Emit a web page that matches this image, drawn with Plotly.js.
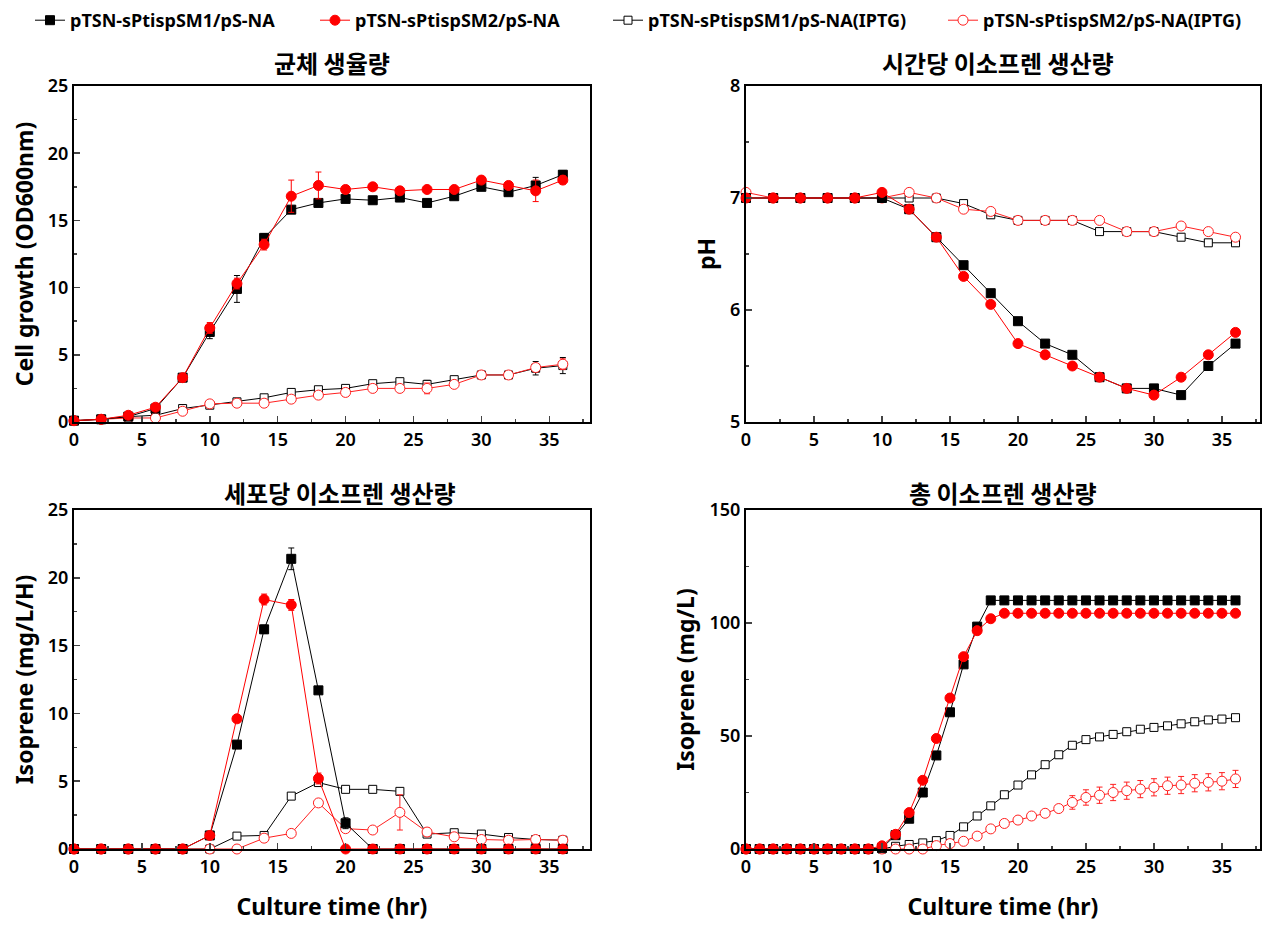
<!DOCTYPE html>
<html>
<head>
<meta charset="utf-8">
<script src="https://cdn.plot.ly/plotly-3.0.1.min.js"></script>
<style>html,body{margin:0;padding:0;background:#fff;}#chart{width:1274px;height:929px;}</style>
</head>
<body>
<div id="chart"></div>
<script>
// ---- data ----
const seriesNames = ["pTSN-sPtispSM1/pS-NA", "pTSN-sPtispSM2/pS-NA", "pTSN-sPtispSM1/pS-NA(IPTG)", "pTSN-sPtispSM2/pS-NA(IPTG)"];
const panelTitles = ["균체 생율량", "시간당 이소프렌 생산량", "세포당 이소프렌 생산량", "총 이소프렌 생산량"];
const timeEvery2h = [0,2,4,6,8,10,12,14,16,18,20,22,24,26,28,30,32,34,36];
const timeEvery1h = [0,1,2,3,4,5,6,7,8,9,10,11,12,13,14,15,16,17,18,19,20,21,22,23,24,25,26,27,28,29,30,31,32,33,34,35,36];

// Cell growth (OD600nm)
const growthSM1   = [0.1,0.2,0.4,1.0,3.3,6.7,9.9,13.7,15.8,16.3,16.6,16.5,16.7,16.3,16.8,17.5,17.1,17.6,18.4];
const growthSM1E  = [0,0.1,0.1,0.1,0.2,0.5,1.0,0.3,0.2,0.2,0.2,0.2,0.2,0.2,0.2,0.2,0.2,0.6,0.3];
const growthSM2   = [0.1,0.2,0.5,1.1,3.3,7.0,10.3,13.2,16.8,17.6,17.3,17.5,17.2,17.3,17.3,18.0,17.6,17.2,18.0];
const growthSM2E  = [0,0.1,0.1,0.1,0.2,0.4,0.4,0.4,1.2,1.0,0.2,0.2,0.2,0.2,0.2,0.2,0.2,0.8,0.3];
const growthSM1I  = [0.1,0.2,0.4,0.5,1.0,1.25,1.5,1.8,2.2,2.4,2.5,2.85,3.0,2.8,3.15,3.5,3.5,4.0,4.2];
const growthSM1IE = [0,0.1,0.1,0.1,0.2,0.2,0.2,0.2,0.2,0.2,0.2,0.2,0.2,0.3,0.2,0.2,0.2,0.5,0.6];
const growthSM2I  = [0.1,0.2,0.3,0.3,0.8,1.35,1.4,1.4,1.7,2.0,2.2,2.5,2.5,2.5,2.8,3.5,3.5,4.05,4.3];
const growthSM2IE = [0,0.1,0.1,0.1,0.1,0.2,0.2,0.2,0.2,0.2,0.3,0.2,0.2,0.4,0.2,0.2,0.2,0.3,0.4];

// pH
const phSM1   = [7.0,7.0,7.0,7.0,7.0,7.0,6.9,6.65,6.4,6.15,5.9,5.7,5.6,5.4,5.3,5.3,5.24,5.5,5.7];
const phSM2   = [7.0,7.0,7.0,7.0,7.0,7.05,6.9,6.65,6.3,6.05,5.7,5.6,5.5,5.4,5.3,5.24,5.4,5.6,5.8];
const phSM1I  = [7.0,7.0,7.0,7.0,7.0,7.0,7.0,7.0,6.95,6.85,6.8,6.8,6.8,6.7,6.7,6.7,6.65,6.6,6.6];
const phSM2I  = [7.05,7.0,7.0,7.0,7.0,7.0,7.05,7.0,6.9,6.88,6.8,6.8,6.8,6.8,6.7,6.7,6.75,6.7,6.65];
const phErr   = [0.03,0.01,0.01,0.01,0.01,0.03,0.03,0.03,0.03,0.03,0.02,0.02,0.02,0.02,0.02,0.02,0.03,0.02,0.03];

// Isoprene per cell (mg/L/H)
const rateSM1   = [0,0,0,0,0,1.0,7.7,16.2,21.4,11.7,1.9,0,0,0,0,0,0,0,0];
const rateSM1E  = [0,0,0,0,0,0.2,0.2,0.3,0.8,0.2,0.4,0,0,0,0,0,0,0,0];
const rateSM2   = [0,0,0,0,0,1.0,9.6,18.4,18.0,5.2,0,0,0,0,0,0,0,0,0];
const rateSM2E  = [0,0,0,0,0,0.2,0.2,0.4,0.4,0.4,0,0,0,0,0,0,0,0,0];
const rateSM1I  = [0,0,0,0,0,0,0.95,1.0,3.9,4.9,4.4,4.4,4.25,1.1,1.2,1.1,0.85,0.7,0.65];
const rateSM1IE = [0,0,0,0,0,0,0.2,0.2,0.2,0.2,0.2,0.2,0.2,0.2,0.2,0.2,0.2,0.2,0.2];
const rateSM2I  = [0,0,0,0,0,0,0,0.8,1.15,3.4,1.5,1.4,2.7,1.25,0.9,0.7,0.65,0.7,0.65];
const rateSM2IE = [0,0,0,0,0,0,0,0.2,0.1,0.2,0.2,0.1,1.3,0.3,0.2,0.2,0.2,0.2,0.2];

// Total isoprene (mg/L)
const totalSM1  = [0,0,0,0,0,0,0,0,0,0,0.5,6.1,13.4,25.0,41.4,60.5,81.7,98.4,110,110,110,110,110,110,110,110,110,110,110,110,110,110,110,110,110,110,110];
const totalSM2  = [0,0,0,0,0,0,0,0,0,0,1.4,6.5,16.1,30.4,48.9,66.8,85.1,96.6,101.9,104.3,104.3,104.3,104.3,104.3,104.3,104.3,104.3,104.3,104.3,104.3,104.3,104.3,104.3,104.3,104.3,104.3,104.3];
const totalSM1I = [0,0,0,0,0,0,0,0,0,0,0,1.2,2.0,2.7,3.7,6.0,9.8,14.6,19.1,24.0,28.3,32.8,37.3,41.7,45.9,48.4,49.6,50.7,51.9,53.0,53.8,54.5,55.4,56.3,57.1,57.5,58.1];
const totalSM1IE= [0,0,0,0,0,0,0,0,0,0,0,0.3,0.3,0.3,0.4,0.4,0.5,0.6,0.6,0.6,0.6,0.6,0.6,0.6,0.6,0.7,0.7,0.7,0.7,0.8,0.8,0.8,0.8,0.8,0.9,0.9,1.0];
const totalSM2I = [0,0,0,0,0,0,0,0,0,0,0,0,0,0,1.5,2.4,3.4,5.7,8.9,11.3,12.8,14.6,15.8,17.9,20.6,22.8,23.8,25.0,25.8,26.5,27.3,28.0,28.3,29.1,29.5,30.0,31.0];
const totalSM2IE= [0,0,0,0,0,0,0,0,0,0,0,0,0,0,0.3,0.4,0.5,0.6,0.8,0.9,1.0,1.2,1.4,1.6,3.0,3.4,3.6,3.6,3.8,3.8,3.8,3.8,3.8,3.8,3.8,3.8,3.8];

// ---- styles ----
const styles = [
  {color:'#000000', symbol:'square', fill:'#000000', size:9},
  {color:'#ff0000', symbol:'circle', fill:'#ff0000', size:10},
  {color:'#000000', symbol:'square', fill:'#ffffff', size:8},
  {color:'#ff2020', symbol:'circle', fill:'#ffffff', size:10}
];

function tr(x, y, err, s, axn, showLeg, legendId) {
  const st = styles[s];
  const t = {
    type:'scatter', mode:'lines+markers', x:x, y:y,
    xaxis:'x'+(axn===1?'':axn), yaxis:'y'+(axn===1?'':axn),
    name: seriesNames[s], showlegend: showLeg, cliponaxis:false,
    line:{color:st.color, width:1},
    marker:{symbol:st.symbol, size:st.size, color:st.fill, line:{color:st.color, width:1}}
  };
  if (err) t.error_y = {type:'data', array:err, visible:true, color:st.color, thickness:1, width:3};
  if (legendId) t.legend = legendId;
  return t;
}

const traces = [
  tr(timeEvery2h, growthSM1I, growthSM1IE, 2, 1, false),
  tr(timeEvery2h, growthSM2I, growthSM2IE, 3, 1, false),
  tr(timeEvery2h, growthSM1, growthSM1E, 0, 1, true, 'legend'),
  tr(timeEvery2h, growthSM2, growthSM2E, 1, 1, true, 'legend2'),

  tr(timeEvery2h, phSM1I, phErr, 2, 2, true, 'legend3'),
  tr(timeEvery2h, phSM2I, phErr, 3, 2, true, 'legend4'),
  tr(timeEvery2h, phSM1, phErr, 0, 2, false),
  tr(timeEvery2h, phSM2, phErr, 1, 2, false),

  tr(timeEvery2h, rateSM1I, rateSM1IE, 2, 3, false),
  tr(timeEvery2h, rateSM2I, rateSM2IE, 3, 3, false),
  tr(timeEvery2h, rateSM1, rateSM1E, 0, 3, false),
  tr(timeEvery2h, rateSM2, rateSM2E, 1, 3, false),

  tr(timeEvery1h, totalSM1I, totalSM1IE, 2, 4, false),
  tr(timeEvery1h, totalSM2I, totalSM2IE, 3, 4, false),
  tr(timeEvery1h, totalSM1, null, 0, 4, false),
  tr(timeEvery1h, totalSM2, null, 1, 4, false)
];

const W = 1274, H = 929;
const px = v => v / W, py = v => (H - v) / H;
const tickFont = {family:'Noto Sans, Open Sans, sans-serif', size:18, color:'#000', weight:600};
const titleFont = {family:'Noto Sans, Open Sans, sans-serif', size:23, color:'#000', weight:'bold'};

function xax(dom, rng, showTitle, anchor) {
  const a = {domain:dom, range:rng, anchor:anchor, dtick:5, tick0:0, ticks:'inside', ticklen:6, tickwidth:1.5,
    showline:true, linewidth:2, linecolor:'#000', mirror:true, showgrid:false, zeroline:false,
    tickfont:tickFont, minor:{dtick:2.5, ticks:'inside', ticklen:3, tickwidth:1.5}};
  if (showTitle) a.title = {text:'Culture time (hr)', font:titleFont, standoff:22};
  return a;
}
function yax(dom, rng, dt, mdt, title, anchor) {
  return {domain:dom, range:rng, anchor:anchor, dtick:dt, ticks:'inside', ticklen:6, tickwidth:1.5,
    showline:true, linewidth:2, linecolor:'#000', mirror:true, showgrid:false, zeroline:false,
    tickfont:tickFont, minor:{dtick:mdt, ticks:'inside', ticklen:3, tickwidth:1.5},
    title:{text:title, font:titleFont, standoff:8}};
}

const xL = [px(74), px(590)], xR = [px(746), px(1260)];
const yT = [py(422), py(86)], yB = [py(849), py(510)];

const legFont = {family:'Noto Sans, Open Sans, sans-serif', size:18, color:'#000', weight:'bold'};
function leg(x) { return {x:x, y:py(2), xanchor:'left', yanchor:'top', orientation:'h', font:legFont, bgcolor:'rgba(0,0,0,0)', itemwidth:30, tracegroupgap:0}; }

const ttlFont = {family:'Noto Sans CJK KR', size:24, weight:'bold', color:'#000'};
function ttl(i, x, y) {
  return {text:panelTitles[i], x:px(x), y:py(y), xref:'paper', yref:'paper', xanchor:'center', yanchor:'middle', showarrow:false, font:ttlFont};
}

const layout = {
  width:W, height:H, margin:{l:0,r:0,t:0,b:0}, paper_bgcolor:'#fff', plot_bgcolor:'#fff',
  xaxis: xax(xL, [0,38], false, 'y'),
  yaxis: yax(yT, [0,25], 5, 2.5, 'Cell growth (OD600nm)', 'x'),
  xaxis2: xax(xR, [0,37.8], false, 'y2'),
  yaxis2: yax(yT, [5,8], 1, 0.5, 'pH', 'x2'),
  xaxis3: xax(xL, [0,38], true, 'y3'),
  yaxis3: yax(yB, [0,25], 5, 2.5, 'Isoprene (mg/L/H)', 'x3'),
  xaxis4: xax(xR, [0,37.8], true, 'y4'),
  yaxis4: yax(yB, [0,150], 50, 25, 'Isoprene (mg/L)', 'x4'),
  legend: leg(px(30)),
  legend2: leg(px(315)),
  legend3: leg(px(608)),
  legend4: leg(px(943)),
  annotations: [ttl(0, 332, 62), ttl(1, 998, 62), ttl(2, 340, 492), ttl(3, 1003, 492)]
};

Plotly.newPlot('chart', traces, layout, {staticPlot:true, displayModeBar:false});
</script>
</body>
</html>
